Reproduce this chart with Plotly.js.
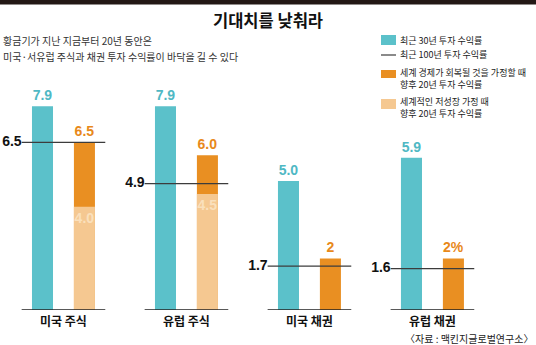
<!DOCTYPE html>
<html><head><meta charset="utf-8">
<script src="https://cdn.plot.ly/plotly-3.0.1.min.js"></script>
<style>html,body{margin:0;padding:0;background:#fff}#c{width:536px;height:345px}</style>
</head><body><div id="c"></div>
<script>
const categories = ['미국 주식', '유럽 주식', '미국 채권', '유럽 채권'];
const recent30 = [7.9, 7.9, 5.0, 5.9];
const recent100 = [6.5, 4.9, 1.7, 1.6];
const recovery20 = [6.5, 6.0, 2, 2];
const recoveryLabels = ['6.5', '6.0', '2', '2%'];
const lowGrowth20 = [4.0, 4.5, null, null];
const lowGrowthLabels = ['4.0', '4.5', '', ''];
const recent30Labels = ['7.9', '7.9', '5.0', '5.9'];
const recent100Labels = ['6.5', '4.9', '1.7', '1.6'];
const seriesNames = ['최근 30년 투자 수익률', '최근 100년 투자 수익률',
  ['세계 경제가 회복될 것을 가정할 때', '향후 20년 투자 수익률'],
  ['세계적인 저성장 가정 때', '향후 20년 투자 수익률']];
const titleText = '기대치를 낮춰라';
const subtitleLines = ['황금기가 지난 지금부터 20년 동안은', '미국·서유럽 주식과 채권 투자 수익률이 바닥을 길 수 있다'];
const sourceText = '〈자료 : 맥킨지글로벌연구소〉';

const W = 536, H = 345, T = 95, B = 35;
const plotH = H - T - B;
const py = p => (H - B - p) / plotH;   // pixel row -> paper y
const px = p => p / W;                 // pixel col -> paper x
const KR = '"Noto Sans CJK KR", "Noto Sans", sans-serif';
const NUM = '"Liberation Sans Narrow", "Liberation Sans", Arial, sans-serif';
const TEAL = '#5bc1ca', ORANGE = '#e98f22', LIGHT = '#f5c891', LINE = '#3c3c3c';

const idx = categories.map((_, i) => i);
const BW = 0.171;
const HALF = 0.34;

function segs(vals, labels) {
  const x = [], y = [], t = [];
  idx.forEach(i => {
    x.push(i - HALF, i + HALF, null);
    y.push(vals[i], vals[i], null);
    t.push(labels ? labels[i] : '', '', '');
  });
  return {x, y, t};
}
const l100 = segs(recent100, recent100Labels);
const base = segs(idx.map(() => 0), null);

const traces = [
  {type: 'bar', name: seriesNames[0], x: idx, y: recent30, width: BW, offset: -0.256,
   marker: {color: TEAL}, text: recent30Labels, textposition: 'outside', cliponaxis: false,
   textfont: {family: NUM, size: 14, color: '#4fb8c4', weight: 'bold'}, showlegend: false, hoverinfo: 'skip'},
  {type: 'bar', name: seriesNames[2].join(' '), x: idx, y: recovery20, width: BW, offset: 0.085,
   marker: {color: ORANGE}, text: recoveryLabels, textposition: 'outside', cliponaxis: false,
   textfont: {family: NUM, size: 14, color: '#e8891a', weight: 'bold'}, showlegend: false, hoverinfo: 'skip'},
  {type: 'bar', name: seriesNames[3].join(' '), x: idx, y: lowGrowth20, width: BW, offset: 0.085,
   marker: {color: LIGHT}, text: lowGrowthLabels, textposition: 'inside', insidetextanchor: 'end',
   textangle: 0, constraintext: 'none',
   textfont: {family: NUM, size: 14, color: '#fae0bc', weight: 'bold'}, showlegend: false, hoverinfo: 'skip'},
  {type: 'scatter', mode: 'lines', x: base.x, y: base.y, showlegend: false,
   line: {color: '#222', width: 1.5}, hoverinfo: 'skip'},
  {type: 'scatter', mode: 'lines+text', name: seriesNames[1], x: l100.x, y: l100.y, text: l100.t,
   textposition: 'middle left', textfont: {family: NUM, size: 14, color: '#111', weight: 'bold'},
   line: {color: LINE, width: 1.3}, showlegend: false, cliponaxis: false, hoverinfo: 'skip'}
];

// legend drawn as swatches + texts
const legendX = 381, legendTextX = 399;
const legendItems = [
  {kind: 'rect', color: TEAL, y0: 35, y1: 45, lines: [seriesNames[0]], ly: [40]},
  {kind: 'line', color: LINE, y0: 55, y1: 55, lines: [seriesNames[1]], ly: [55]},
  {kind: 'rect', color: ORANGE, y0: 70, y1: 78, lines: seriesNames[2], ly: [72, 84.5]},
  {kind: 'rect', color: LIGHT, y0: 99, y1: 109, lines: seriesNames[3], ly: [101.5, 114]}
];
const shapes = [
  {type: 'rect', xref: 'paper', yref: 'paper', x0: 0, x1: 1, y0: py(4.5), y1: py(0),
   fillcolor: '#231815', line: {width: 0}, layer: 'above'}
];
const annotations = [
  {xref: 'paper', yref: 'paper', x: px(1), xanchor: 'left', y: py(40), yanchor: 'middle',
   text: subtitleLines[0], showarrow: false, font: {family: KR, size: 10, color: '#333'}},
  {xref: 'paper', yref: 'paper', x: px(1), xanchor: 'left', y: py(56), yanchor: 'middle',
   text: subtitleLines[1], showarrow: false, font: {family: KR, size: 10, color: '#333'}},
  {xref: 'paper', yref: 'paper', x: px(534), xanchor: 'right', y: py(338.5), yanchor: 'middle',
   text: sourceText, showarrow: false, borderpad: 0, font: {family: KR, size: 10, color: '#222'}}
];
legendItems.forEach(it => {
  if (it.kind === 'rect') {
    shapes.push({type: 'rect', xref: 'paper', yref: 'paper', x0: px(legendX), x1: px(legendX + 15),
      y0: py(it.y1), y1: py(it.y0), fillcolor: it.color, line: {width: 0}});
  } else {
    shapes.push({type: 'line', xref: 'paper', yref: 'paper', x0: px(legendX), x1: px(legendX + 15),
      y0: py(it.y0), y1: py(it.y0), line: {color: it.color, width: 1.2}});
  }
  it.lines.forEach((t, k) => annotations.push({xref: 'paper', yref: 'paper', x: px(legendTextX),
    xanchor: 'left', y: py(it.ly[k]), yanchor: 'middle', text: t, showarrow: false, borderpad: 0,
    font: {family: KR, size: 9, color: '#222'}}));
});

const layout = {
  width: W, height: H,
  margin: {l: 0, r: 0, t: T, b: B, autoexpand: false},
  paper_bgcolor: '#fff', plot_bgcolor: '#fff',
  barmode: 'overlay',
  showlegend: false,
  title: {text: '<b>' + titleText + '</b>', font: {family: KR, size: 16.5, color: '#111'},
          x: 0.5, xanchor: 'center', yref: 'container', y: 1 - 21 / H, yanchor: 'middle'},
  xaxis: {range: [-0.516, 3.842], tickvals: idx, ticktext: categories.map(c => '<b>' + c + '</b>'),
          showgrid: false, zeroline: false, showline: false, ticks: '', ticklabelstandoff: 3,
          tickfont: {family: KR, size: 12, color: '#111'}, fixedrange: true},
  yaxis: {range: [0, plotH / 25.8], visible: false, showgrid: false, zeroline: false, fixedrange: true},
  shapes: shapes,
  annotations: annotations
};

Plotly.newPlot('c', traces, layout, {displayModeBar: false, staticPlot: true});
</script>
</body></html>
